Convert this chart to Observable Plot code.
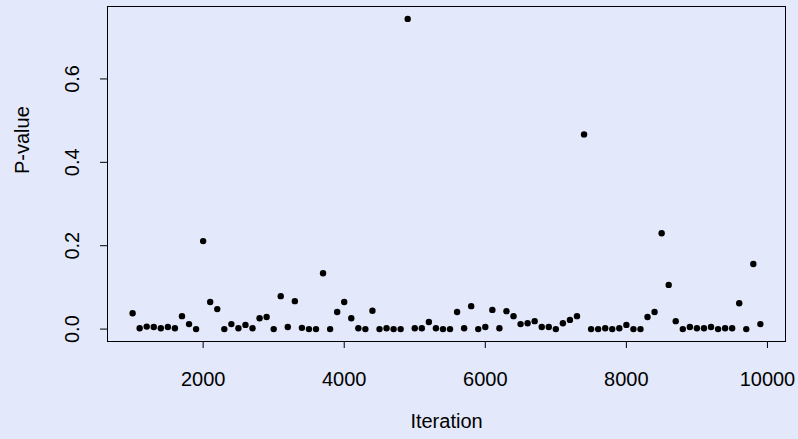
<!DOCTYPE html>
<html>
<head>
<meta charset="utf-8">
<script src="https://cdn.jsdelivr.net/npm/d3@7"></script>
<script src="https://cdn.jsdelivr.net/npm/@observablehq/plot@0.6"></script>
<style>
  html, body { margin: 0; padding: 0; background: #E3E8FA; }
  #chart { width: 798px; height: 439px; }
</style>
</head>
<body>
<div id="chart"></div>
<script>
const iterations = [
  1000, 1100, 1200, 1300, 1400, 1500, 1600, 1700, 1800, 1900,
  2000, 2100, 2200, 2300, 2400, 2500, 2600, 2700, 2800, 2900,
  3000, 3100, 3200, 3300, 3400, 3500, 3600, 3700, 3800, 3900,
  4000, 4100, 4200, 4300, 4400, 4500, 4600, 4700, 4800, 4900,
  5000, 5100, 5200, 5300, 5400, 5500, 5600, 5700, 5800, 5900,
  6000, 6100, 6200, 6300, 6400, 6500, 6600, 6700, 6800, 6900,
  7000, 7100, 7200, 7300, 7400, 7500, 7600, 7700, 7800, 7900,
  8000, 8100, 8200, 8300, 8400, 8500, 8600, 8700, 8800, 8900,
  9000, 9100, 9200, 9300, 9400, 9500, 9600, 9700, 9800, 9900
];
const pValues = [
  0.038, 0.002, 0.006, 0.005, 0.002, 0.005, 0.002, 0.031, 0.012, 0.000,
  0.211, 0.065, 0.048, 0.000, 0.012, 0.002, 0.010, 0.002, 0.026, 0.029,
  0.000, 0.079, 0.005, 0.067, 0.003, 0.000, 0.000, 0.134, 0.000, 0.041,
  0.065, 0.026, 0.002, 0.000, 0.044, 0.000, 0.002, 0.000, 0.000, 0.744,
  0.002, 0.002, 0.017, 0.002, 0.000, 0.000, 0.041, 0.002, 0.055, 0.000,
  0.005, 0.046, 0.002, 0.043, 0.031, 0.012, 0.014, 0.019, 0.005, 0.005,
  0.000, 0.014, 0.022, 0.031, 0.467, 0.000, 0.000, 0.002, 0.000, 0.002,
  0.010, 0.000, 0.000, 0.029, 0.041, 0.230, 0.106, 0.019, 0.000, 0.005,
  0.002, 0.002, 0.005, 0.000, 0.002, 0.002, 0.062, 0.000, 0.156, 0.012
];
const xTicks = [2000, 4000, 6000, 8000, 10000];
const yTicks = [0.0, 0.2, 0.4, 0.6];
const xTitle = "Iteration";
const yTitle = "P-value";

const data = iterations.map((it, i) => ({iteration: it, p: pValues[i]}));

const chart = Plot.plot({
  width: 798,
  height: 439,
  marginLeft: 107,
  marginRight: 13,
  marginTop: 6,
  marginBottom: 98,
  style: {
    background: "#E3E8FA",
    fontFamily: "'Liberation Sans', Arial, Helvetica, sans-serif",
    fontSize: "20px",
    color: "black"
  },
  x: {domain: [644, 10256]},
  y: {domain: [-0.02976, 0.77376]},
  marks: [
    Plot.frame({stroke: "black", strokeWidth: 1}),
    Plot.axisX({ticks: xTicks, tickFormat: d => String(d), tickSize: 7, tickPadding: 23, label: null, fontSize: 20}),
    Plot.axisY({ticks: yTicks, tickSize: 7, text: null, label: null}),
    Plot.axisY({ticks: yTicks, tickFormat: d => d.toFixed(1), tickSize: 0, tickPadding: 35, rotate: -90, textAnchor: "middle", label: null, fontSize: 20}),
    Plot.text([xTitle], {text: d => d, frameAnchor: "bottom", dy: 86, fontSize: 20, fill: "black"}),
    Plot.text([yTitle], {text: d => d, frameAnchor: "left", dx: -84.5, rotate: -90, fontSize: 20, fill: "black"}),
    Plot.dot(data, {x: "iteration", y: "p", r: 3.2, fill: "black", stroke: "none"})
  ]
});
document.getElementById("chart").appendChild(chart);
</script>
</body>
</html>
